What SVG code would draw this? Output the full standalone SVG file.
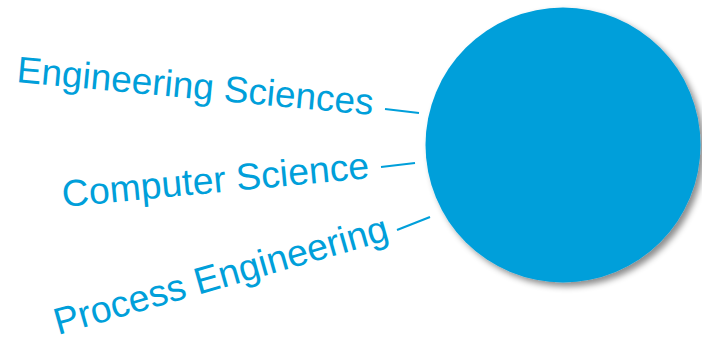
<svg xmlns="http://www.w3.org/2000/svg" width="702" height="341" viewBox="0 0 702 341">
<defs>
<style>
.lbl{font-family:"Liberation Sans",Arial,sans-serif;font-size:37px;fill:#009FDA;}
.con{stroke:#009FDA;stroke-width:2.2;fill:none;}
</style>
<filter id="sh" x="-20%" y="-20%" width="140%" height="140%">
<feDropShadow dx="4" dy="4" stdDeviation="3" flood-color="#000" flood-opacity="0.45"/>
</filter>
</defs>
<rect width="702" height="341" fill="#fff"/>
<g id="circle">
<circle cx="563" cy="145" r="137.5" fill="#009FDA" filter="url(#sh)"/>
</g>
<g id="connectors">
<line class="con" x1="385" y1="109" x2="419" y2="113"/>
<line class="con" x1="381" y1="167" x2="415" y2="163"/>
<line class="con" x1="397" y1="230" x2="430" y2="217"/>
</g>
<g id="label-engineering-sciences">
<text class="lbl" transform="translate(16,82) rotate(5.3)">Engineering Sciences</text>
</g>
<g id="label-computer-science">
<text class="lbl" transform="translate(63,207) rotate(-5.4)" style="font-size:37.5px">Computer Science</text>
</g>
<g id="label-process-engineering">
<text class="lbl" transform="translate(58,335) rotate(-16)" style="font-size:37.5px">Process Engineering</text>
</g>
</svg>
